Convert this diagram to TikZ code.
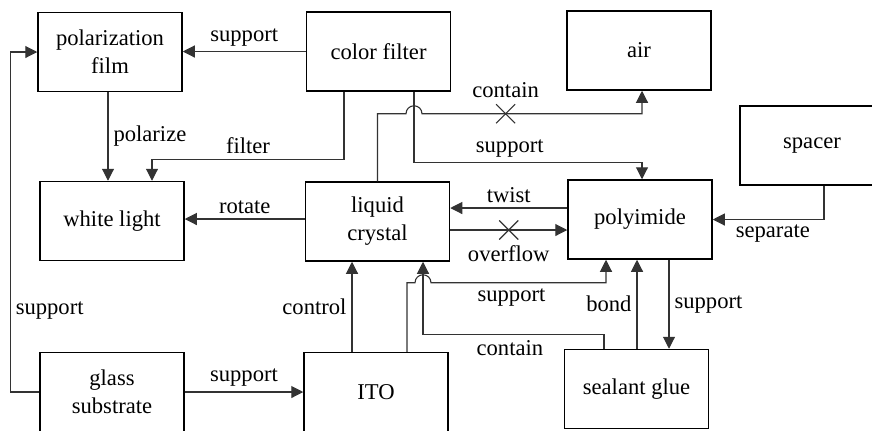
\documentclass[tikz,border=0pt]{standalone}
\usepackage{fontspec}
\setmainfont{Liberation Serif}
\usetikzlibrary{arrows.meta,calc,shapes.misc}
\begin{document}
\begin{tikzpicture}[x=0.5pt,y=-0.5pt,
		box/.style={draw,line width=0.75pt,minimum width=72pt,minimum height=39.5pt,inner sep=0pt,align=center,font=\fontsize{11.3}{14}\selectfont},
		conn/.style={draw=black!80,line width=0.55pt,-{Triangle[length=6pt,width=6pt]}},
		lbl/.style={inner sep=2.5pt,font=\fontsize{11.3}{14}\selectfont},
		xmark/.style={cross out,draw=black!80,line width=0.55pt,minimum size=9pt,inner sep=0pt}]
		\useasboundingbox (0,0) rectangle (872,430);

		\node[box] (pf) at (110,52) {polarization\\film};
		\node[box] (cf) at (378.5,51.5) {color filter};
		\node[box] (air) at (639,50.5) {air};
		\node[box] (spacer) at (812,145.5) {spacer};
		\node[box] (wl) at (112,221) {white light};
		\node[box] (lc) at (377.5,221.5) {liquid\\crystal};
		\node[box] (pi) at (640,219.5) {polyimide};
		\node[box] (gs) at (112,392) {glass\\substrate};
		\node[box] (ito) at (376,392) {ITO};
		\node[box] (sg) at (636.5,389) {sealant glue};

		\draw[conn] (cf.west) -- (cf.west -| pf.east) node[lbl,midway,above] {support};

		\coordinate (pz) at ($(pf.south)+(-2,0)$);
		\draw[conn] (pz) -- (pz |- wl.north) node[lbl,midway,right] {polarize};

		\coordinate (fl) at ($(cf.south)+(-34.5,0)$);
		\coordinate (flw) at ($(wl.north)+(40,0)$);
		\draw[conn] (fl) -- ++(0,68) -| (flw) node[lbl,pos=0.25,above] {filter};

		\coordinate (cfs) at ($(cf.south)+(35.5,0)$);
		\coordinate (hopA) at ($(cfs |- air.south)+(0,23)$);
		\coordinate (ai) at ($(air.south)+(3,0)$);
		\draw[conn] (lc.north) |- ($(hopA)+(-8,0)$) arc[start angle=180,end angle=0,radius=4pt] -| (ai) node[xmark,pos=0.19] {} node[lbl,pos=0.19,above=5pt] {contain};

		\coordinate (pis) at ($(pi.north)+(2,0)$);
		\draw[conn] (cfs) -- ++(0,71) -| (pis) node[lbl,pos=0.21,above] {support};

		\coordinate (tw) at ($(pi.west)+(0,-11.5)$);
		\draw[conn] (tw) -- (tw -| lc.east) node[lbl,midway,above] {twist};

		\coordinate (ov) at ($(lc.east)+(0,8.5)$);
		\draw[conn] (ov) -- (ov -| pi.west) node[xmark,midway] {} node[lbl,midway,below=5pt] {overflow};

		\coordinate (rt) at ($(lc.west)+(0,-2.5)$);
		\draw[conn] (rt) -- (rt -| wl.east) node[lbl,midway,above] {rotate};

		\coordinate (sp) at ($(spacer.south)+(12,0)$);
		\draw[conn] (sp) |- (pi.east) node[lbl,pos=0.73,below] {separate};

		\draw[conn] (gs.west) -- ++(-29,0) |- (pf.west) node[lbl,pos=0.12,right] {support};

		\draw[conn] (gs.east) -- (ito.west) node[lbl,midway,above] {support};

		\coordinate (ct) at ($(ito.north)+(-24,0)$);
		\draw[conn] (ct) -- (ct |- lc.south) node[lbl,midway,left] {control};

		\coordinate (sgc) at ($(lc.south)+(45.5,0)$);
		\coordinate (hopB) at ($(sgc |- pi.south)+(0,23)$);
		\coordinate (is) at ($(ito.north)+(31,0)$);
		\coordinate (pib) at ($(pi.south)+(-34,0)$);
		\draw[conn] (is) |- ($(hopB)+(-8,0)$) arc[start angle=180,end angle=0,radius=4pt] -| (pib) node[lbl,pos=0.23,below] {support};

		\coordinate (sc) at ($(sg.north)+(-32.5,0)$);
		\draw[conn] (sc) -- ++(0,-14) -| (sgc) node[lbl,pos=0.26,below] {contain};

		\coordinate (bd) at ($(sg.north)+(0.5,0)$);
		\draw[conn] (bd) -- (bd |- pi.south) node[lbl,midway,left] {bond};

		\coordinate (ps) at ($(pi.south)+(29,0)$);
		\draw[conn] (ps) -- (ps |- sg.north) node[lbl,midway,right] {support};
	\end{tikzpicture}
\end{document}
